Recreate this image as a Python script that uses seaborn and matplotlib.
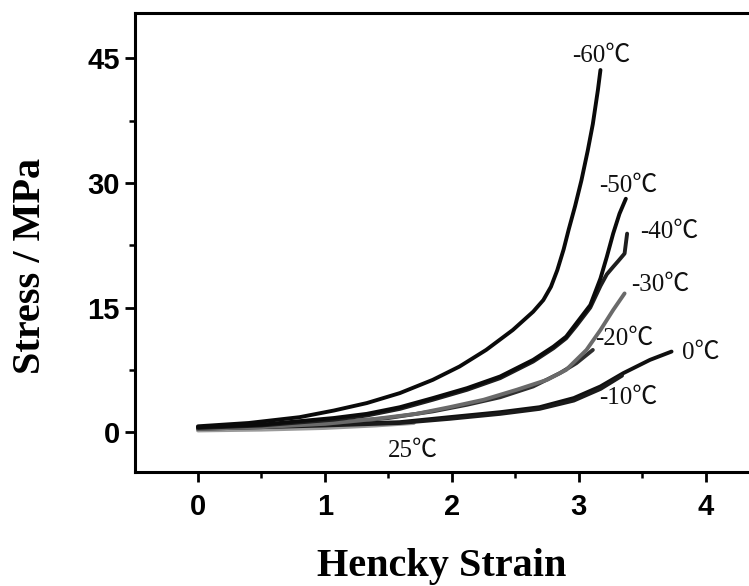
import numpy as np
import pandas as pd
import matplotlib
matplotlib.use("Agg")
import matplotlib.pyplot as plt
import seaborn as sns
from matplotlib.ticker import MultipleLocator

# ---- data ----
labels = ["-60℃", "-50℃", "-40℃", "-30℃", "-20℃", "-10℃", "0℃", "25℃"]

strain_m60 = [0.0, 0.4, 0.8, 1.07, 1.33, 1.59, 1.85, 2.06, 2.27, 2.48, 2.64,
              2.72, 2.78, 2.83, 2.88, 2.92, 2.97, 3.02, 3.07, 3.11, 3.15, 3.17]
stress_m60 = [0.7, 1.1, 1.8, 2.6, 3.5, 4.7, 6.3, 7.9, 9.9, 12.3, 14.5,
              15.9, 17.5, 19.5, 22.0, 24.4, 27.2, 30.3, 33.9, 37.1, 41.2, 43.6]

strain_m50 = [0.0, 0.5, 1.07, 1.33, 1.59, 1.85, 2.12, 2.38, 2.64, 2.80, 2.90,
              2.98, 3.09, 3.17, 3.22, 3.27, 3.32, 3.37]
stress_m50 = [0.6, 0.9, 1.7, 2.2, 3.0, 4.1, 5.3, 6.7, 8.7, 10.3, 11.5,
              13.1, 15.3, 18.5, 21.1, 23.9, 26.3, 28.1]

strain_m40 = [0.0, 0.5, 1.07, 1.33, 1.59, 1.85, 2.12, 2.38, 2.64, 2.80, 2.90,
              2.98, 3.09, 3.17, 3.22, 3.27, 3.31, 3.36, 3.38]
stress_m40 = [0.5, 0.8, 1.5, 2.0, 2.8, 3.9, 5.1, 6.5, 8.5, 10.1, 11.3,
              12.8, 15.0, 17.6, 19.0, 19.9, 20.6, 21.5, 23.9]

strain_m30 = [0.0, 0.5, 1.0, 1.4, 1.72, 1.98, 2.25, 2.51, 2.75, 2.90, 3.06,
              3.17, 3.27, 3.36]
stress_m30 = [0.4, 0.6, 1.0, 1.6, 2.2, 3.0, 3.9, 5.1, 6.3, 7.5, 9.9,
              12.3, 14.7, 16.7]

strain_m20 = [0.0, 0.5, 1.0, 1.5, 1.85, 2.12, 2.38, 2.64, 2.85, 2.98, 3.11]
stress_m20 = [0.5, 0.7, 1.0, 1.7, 2.5, 3.3, 4.2, 5.5, 7.1, 8.3, 9.9]

strain_m10 = [0.0, 0.5, 1.0, 1.59, 1.98, 2.38, 2.69, 2.96, 3.17, 3.34]
stress_m10 = [0.4, 0.6, 0.8, 1.1, 1.6, 2.2, 2.8, 3.8, 5.2, 6.8]

strain_0 = [0.0, 0.5, 1.0, 1.59, 1.98, 2.38, 2.69, 2.96, 3.17, 3.35, 3.56, 3.73]
stress_0 = [0.5, 0.7, 0.9, 1.2, 1.8, 2.4, 3.0, 4.1, 5.5, 7.1, 8.7, 9.7]

strain_25 = [0.0, 0.5, 1.0, 1.4, 1.7]
stress_25 = [0.2, 0.3, 0.5, 0.8, 1.1]

xticks = [0, 1, 2, 3, 4]
yticks = [0, 15, 30, 45]

series = [
    (labels[7], strain_25, stress_25),
    (labels[6], strain_0, stress_0),
    (labels[5], strain_m10, stress_m10),
    (labels[4], strain_m20, stress_m20),
    (labels[3], strain_m30, stress_m30),
    (labels[2], strain_m40, stress_m40),
    (labels[1], strain_m50, stress_m50),
    (labels[0], strain_m60, stress_m60),
]
rows = []
for name, xs, ys in series:
    for x, y in zip(xs, ys):
        rows.append({"T": name, "strain": x, "stress": y})
df = pd.DataFrame(rows)

palette = {
    "-60℃": "#0a0a0a", "-50℃": "#0a0a0a", "-40℃": "#1e1e1e",
    "-30℃": "#6a6a6a", "-20℃": "#2e2e2e", "-10℃": "#1a1a1a",
    "0℃": "#101010", "25℃": "#9a9a9a",
}

sns.set_theme(style="ticks")
plt.rcParams["font.family"] = ["Liberation Sans", "DejaVu Sans"]
plt.rcParams["text.color"] = "black"
plt.rcParams["xtick.color"] = "black"
plt.rcParams["ytick.color"] = "black"
plt.rcParams["axes.labelcolor"] = "black"

fig = plt.figure(figsize=(7.49, 5.86), dpi=100)
ax = fig.add_axes([135 / 749, 1 - 472 / 586, 1 - 135 / 749, (472 - 12.7) / 586])

sns.lineplot(data=df, x="strain", y="stress", hue="T", palette=palette,
             hue_order=[s[0] for s in series],
             estimator=None, sort=False, units="T", legend=False,
             linewidth=2.8, ax=ax)

ax.set_xlim(-0.496, 4.34)
ax.set_ylim(-4.8, 50.5)
ax.set_xticks(xticks)
ax.set_yticks(yticks)
ax.xaxis.set_minor_locator(MultipleLocator(0.5))
ax.yaxis.set_minor_locator(MultipleLocator(7.5))
ax.tick_params(axis="both", which="major", direction="out", length=7, width=2,
               labelsize=21, color="black", labelcolor="black")
ax.tick_params(axis="x", which="major", pad=8)
ax.tick_params(axis="y", which="major", pad=4)
ax.tick_params(axis="both", which="minor", direction="out", length=4, width=1.8,
               color="black")
for lab in ax.get_xticklabels() + ax.get_yticklabels():
    lab.set_fontweight("bold")
for side in ["left", "bottom", "top"]:
    ax.spines[side].set_linewidth(2.2)
    ax.spines[side].set_color("black")
ax.spines["right"].set_visible(False)

serif = ["Liberation Serif", "Noto Sans CJK SC", "DejaVu Sans"]
ax.set_xlabel("Hencky Strain", fontsize=29, fontweight="bold", family=serif)
ax.set_ylabel("Stress / MPa", fontsize=29, fontweight="bold", family=serif)
ax.xaxis.set_label_coords(0.5, -0.165)
ax.yaxis.set_label_coords(-0.14, 0.449)

label_pos = {
    "-60℃": (3.18, 45.3), "-50℃": (3.39, 29.7), "-40℃": (3.71, 24.1),
    "-30℃": (3.64, 17.7), "-20℃": (3.36, 11.2), "0℃": (3.96, 9.6),
    "-10℃": (3.39, 4.1), "25℃": (1.69, -2.2),
}
for name, (x, y) in label_pos.items():
    ax.text(x, y, name, fontsize=18, family=serif, ha="center", va="center",
            color="#111111")

fig.savefig("out.png", dpi=100)
